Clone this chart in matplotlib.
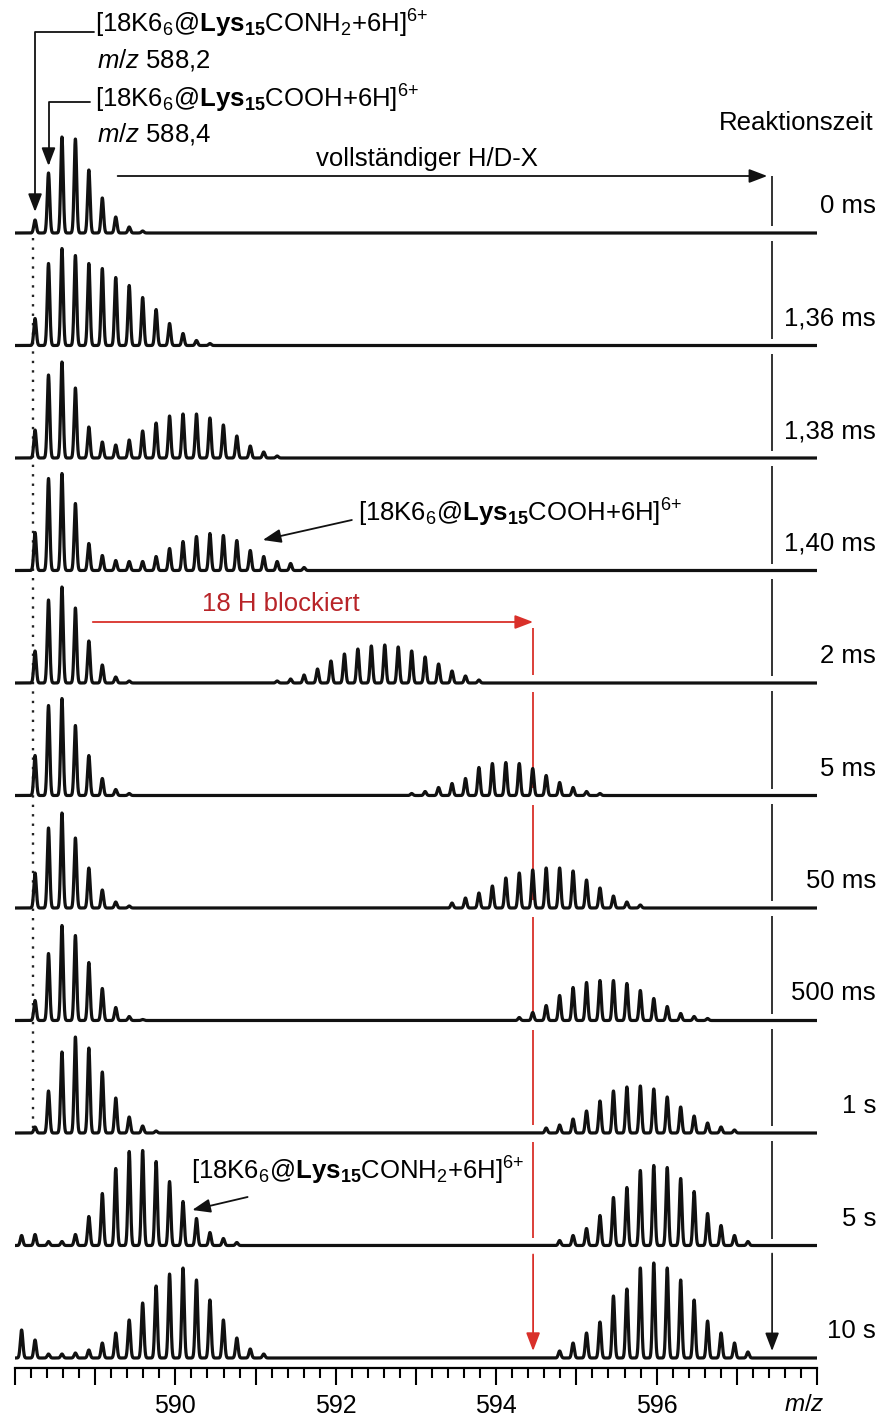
import numpy as np
import matplotlib
matplotlib.use("Agg")
import matplotlib.pyplot as plt
from matplotlib import font_manager
from matplotlib.ticker import MultipleLocator, FuncFormatter

plt.rcParams['font.family'] = ['Liberation Sans', 'DejaVu Sans']
plt.rcParams['mathtext.fontset'] = 'custom'
plt.rcParams['mathtext.rm'] = 'Liberation Sans'
plt.rcParams['mathtext.it'] = 'Liberation Sans:italic'
plt.rcParams['mathtext.bf'] = 'Liberation Sans:bold'

# reaction times, top panel to bottom panel
times = ["0 ms", "1,36 ms", "1,38 ms", "1,40 ms", "2 ms", "5 ms",
         "50 ms", "500 ms", "1 s", "5 s", "10 s"]

# isotope peak heights (% of panel max), first value = peak index -1
left_0ms = [0, 13, 60, 96, 94, 63, 35, 16, 6, 2]
left_136 = [0, 27, 82, 97, 90, 82, 77, 68, 60, 48, 36, 22, 12, 5, 2]
left_138 = [0, 28, 83, 96, 70, 31, 16, 13, 18, 27, 35, 42, 44, 44, 40, 33, 22, 12, 6, 2]
left_140 = [0, 38, 92, 97, 67, 27, 15, 10, 9, 9, 14, 22, 29, 34, 37, 35, 30, 20, 14, 9, 7, 3]
left_2ms = [0, 32, 83, 96, 75, 42, 18, 6, 2]
left_5ms = [0, 40, 90, 97, 70, 40, 17, 6, 2]
left_50ms = [0, 35, 80, 95, 70, 40, 18, 6, 2]
left_500ms = [0, 20, 67, 95, 85, 58, 32, 13, 4, 1]
left_1s = [0, 6, 42, 81, 96, 85, 61, 35, 16, 7, 2]
left_5s = [10, 11, 4, 4, 11, 29, 52, 77, 94, 95, 84, 64, 44, 27, 13, 7, 3]
left_10s = [28, 18, 4, 4, 5, 8, 15, 25, 38, 55, 72, 84, 90, 78, 58, 38, 20, 9, 4]

# deuterated clusters: (first peak index, heights)
right_2ms = (18, [2, 4, 8, 14, 22, 29, 34, 37, 38, 36, 32, 26, 19, 12, 7, 3])
right_5ms = (28, [2, 4, 8, 12, 17, 28, 32, 33, 32, 27, 20, 13, 8, 4, 2])
right_50ms = (31, [5, 10, 15, 22, 30, 35, 38, 40, 40, 37, 28, 20, 12, 6, 3])
right_500ms = (36, [3, 8, 15, 25, 33, 38, 40, 40, 37, 30, 22, 14, 7, 4, 2])
right_1s = (38, [5, 8, 14, 22, 32, 42, 46, 47, 44, 36, 26, 17, 10, 6, 3])
right_5s = (39, [5, 10, 17, 30, 48, 58, 75, 80, 78, 67, 54, 32, 20, 10, 4])
right_10s = (39, [7, 15, 25, 36, 62, 69, 90, 95, 90, 78, 58, 37, 25, 15, 6])

lefts = [left_0ms, left_136, left_138, left_140, left_2ms, left_5ms,
         left_50ms, left_500ms, left_1s, left_5s, left_10s]
rights = [None, None, None, None, right_2ms, right_5ms,
          right_50ms, right_500ms, right_1s, right_5s, right_10s]

peak0 = 588.25          # m/z of first isotope peak (index 0)
dk = 1.00628 / 6        # peak spacing for 6+ ions
mz_conh2 = 588.23
red_mz = 594.46         # 18 H blocked
full_mz = 597.44        # complete H/D exchange
sig = 0.0155

mz = np.linspace(588.0, 598.0, 8000)


def spectrum(heights, start):
    y = np.zeros_like(mz)
    for j, h in enumerate(heights):
        c = peak0 + (start + j) * dk
        y += h * np.exp(-0.5 * ((mz - c) / sig) ** 2)
    return y


def pick_font(names):
    for n in names:
        try:
            font_manager.findfont(n, fallback_to_default=False)
            return n
        except ValueError:
            continue
    return 'Liberation Sans'


tick_font = pick_font(['Liberation Sans Narrow', 'Arial Narrow', 'DejaVu Sans Condensed'])

fig = plt.figure(figsize=(8.79, 14.15), dpi=100)
# y axis in pixel units from the top, 0 at top edge
ax = fig.add_axes([15 / 879, 47 / 1415, 802 / 879, 1368 / 1415])
ax.set_xlim(588, 598)
ax.set_ylim(1368, 0)

base = [233 + 112.5 * i for i in range(len(times))]

for i in range(len(times)):
    y = spectrum(lefts[i], -1)
    if rights[i] is not None:
        y += spectrum(rights[i][1], rights[i][0])
    ax.plot(mz, base[i] - y, color='#111111', lw=2.3, zorder=3)
    ax.text(598.735, base[i] - 27, times[i], ha='right', va='center',
            fontsize=18.5, clip_on=False)

ax.text(598.71, 123, "Reaktionszeit", ha='right', va='center', fontsize=18.5)

# dotted reference line
ax.vlines(mz_conh2, 238, 1128, colors='#222222', lw=1.7,
          linestyles=(0, (1, 3)), zorder=1)

head = '-|>,head_length=1.1,head_width=0.42'

# full exchange marker
ax.annotate('', xy=(full_mz - 0.06, 176), xytext=(589.28, 176),
            arrowprops=dict(arrowstyle=head, color='#111111', lw=1.3,
                            shrinkA=0, shrinkB=0))
ax.text(593.14, 159, "vollständiger H/D-X", ha='center', va='center', fontsize=18.5)
for i in range(10):
    top = 176 if i == 0 else base[i - 1] + 8
    ax.vlines(full_mz, top, base[i] - 7, colors='#111111', lw=1.2, zorder=2)
ax.annotate('', xy=(full_mz, 1351), xytext=(full_mz, base[9] + 8),
            arrowprops=dict(arrowstyle=head, color='#111111', lw=1.2,
                            shrinkA=0, shrinkB=0))

# 18 H blocked marker
red = '#d9302a'
ax.annotate('', xy=(red_mz, 622), xytext=(588.97, 622),
            arrowprops=dict(arrowstyle=head, color=red, lw=1.3,
                            shrinkA=0, shrinkB=0))
ax.text(590.33, 604, "18 H blockiert", ha='left', va='center', fontsize=18.5,
        color='#b82428')
for i in range(4, 10):
    top = 628 if i == 4 else base[i - 1] + 9
    ax.vlines(red_mz, top, base[i] - 8, colors=red, lw=1.3, zorder=2)
ax.annotate('', xy=(red_mz, 1351), xytext=(red_mz, base[9] + 9),
            arrowprops=dict(arrowstyle=head, color=red, lw=1.3,
                            shrinkA=0, shrinkB=0))

# ion labels
lab_conh2 = r'[18K6$_6$@$\mathbf{Lys}_{\mathbf{15}}$CONH$_2$+6H]$^{6{+}}$'
lab_cooh = r'[18K6$_6$@$\mathbf{Lys}_{\mathbf{15}}$COOH+6H]$^{6{+}}$'

ax.text(589.0, 24, lab_conh2, ha='left', va='center', fontsize=18.5)
ax.text(589.02, 60, r'$\mathit{m/z}$ 588,2', ha='left', va='center', fontsize=18.5)
ax.text(589.0, 99, lab_cooh, ha='left', va='center', fontsize=18.5)
ax.text(589.02, 134, r'$\mathit{m/z}$ 588,4', ha='left', va='center', fontsize=18.5)

arr = dict(arrowstyle=head, color='#111111', lw=1.3, shrinkA=0, shrinkB=0,
           connectionstyle='angle,angleA=180,angleB=90,rad=0')
ax.annotate('', xy=(peak0, 212), xytext=(588.99, 32), arrowprops=arr)
ax.annotate('', xy=(peak0 + dk, 166), xytext=(588.93, 102), arrowprops=arr)

straight = dict(arrowstyle=head, color='#111111', lw=1.3, shrinkA=0, shrinkB=0)
ax.text(592.28, 513, lab_cooh, ha='left', va='center', fontsize=18.5)
ax.annotate('', xy=(591.09, 540), xytext=(592.2, 520), arrowprops=straight)
ax.text(590.2, 1171, lab_conh2, ha='left', va='center', fontsize=18.5)
ax.annotate('', xy=(590.21, 1210), xytext=(590.9, 1197), arrowprops=straight)

# axis styling
for s in ['top', 'left', 'right']:
    ax.spines[s].set_visible(False)
ax.spines['bottom'].set_linewidth(1.6)
ax.set_yticks([])
ax.xaxis.set_major_locator(MultipleLocator(1))
ax.xaxis.set_minor_locator(MultipleLocator(0.2))
ax.xaxis.set_major_formatter(FuncFormatter(
    lambda v, p: f'{v:.0f}' if round(v) in (590, 592, 594, 596) else ''))
ax.tick_params(axis='x', which='major', length=12.5, width=1.5, direction='out',
               pad=6, labelsize=18)
ax.tick_params(axis='x', which='minor', length=7, width=1.5, direction='out')
for lbl in ax.get_xticklabels():
    lbl.set_family(tick_font)
ax.text(597.84, 1405, r'$\mathit{m/z}$', ha='center', va='center', fontsize=17.5,
        clip_on=False)

fig.savefig("out.png", dpi=100)
